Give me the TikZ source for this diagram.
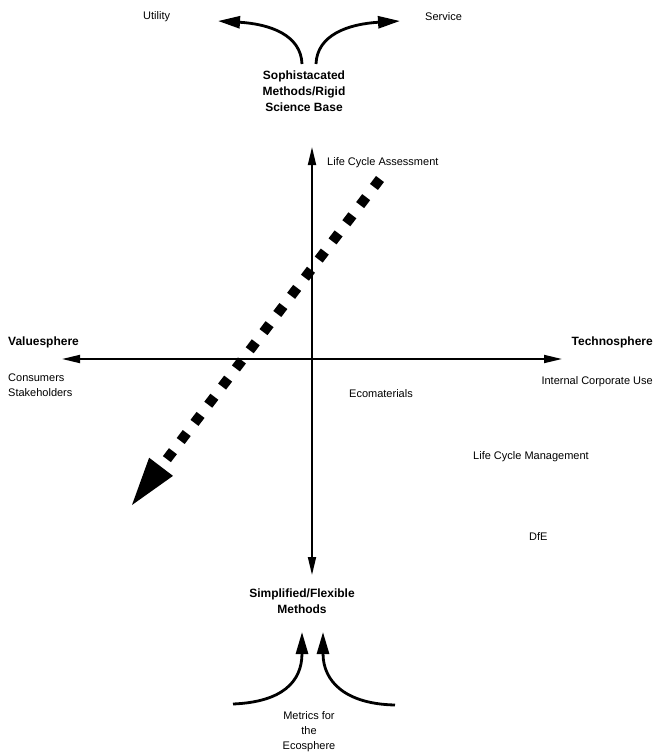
\documentclass[tikz,border=0pt]{standalone}
\usepackage{fontspec}
\setmainfont{Liberation Sans}
\usetikzlibrary{arrows.meta}
\tikzset{
  lbl/.style   = {inner sep=0pt, font=\fontsize{11}{15}\selectfont},
  hdr/.style   = {inner sep=0pt, align=center,
                  font=\fontsize{12}{16}\selectfont\bfseries},
  axis/.style  = {{Triangle[length=18pt,width=8pt]}-{Triangle[length=18pt,width=8pt]},
                  line width=1.8pt},
  bow/.style   = {-{Triangle[length=22pt,width=12pt]}, line width=2.8pt},
  trend/.style = {-{Triangle[length=48pt,width=30pt,line width=0pt]},
                  line width=10pt, dash pattern=on 10pt off 12.8pt},
}

\begin{document}
\begin{tikzpicture}[x=1pt, y=-1pt]
\useasboundingbox (0,0) rectangle (653,753);

%% ---- top: sophisticated methods ---------------------------------------
\node[hdr] (rigid) at (304,91)
  {Sophistacated\\Methods/Rigid\\Science Base};
\node[lbl, anchor=west] (util) at (143,17) {Utility};
\node[lbl, anchor=west] (serv) at (425,17) {Service};

%% ---- axes ----------------------------------------------------------------
\coordinate (ntop) at (312,147);
\coordinate (nbot) at (312,575);
\coordinate (west) at (62,359);
\coordinate (east) at (562,359);

\node[lbl, font=\fontsize{12}{16}\selectfont\bfseries, anchor=west]
  (value) at (8,342) {Valuesphere};
\node[lbl, font=\fontsize{12}{16}\selectfont\bfseries, anchor=east]
  (techno) at (653,342) {Technosphere};
\node[lbl, align=left, anchor=west] (cons) at (8,385.5)
  {Consumers\\Stakeholders};
\node[lbl, anchor=east] (corp) at (653,382) {Internal Corporate Use};

%% ---- quadrant labels -----------------------------------------------------
\node[lbl, anchor=west] (lca)  at (327,163) {Life Cycle Assessment};
\node[lbl, anchor=west] (eco)  at (349,394) {Ecomaterials};
\node[lbl, anchor=west] (lcm)  at (473,457) {Life Cycle Management};
\node[lbl, anchor=west] (dfe)  at (529,537) {DfE};

%% ---- bottom: simplified methods ------------------------------------------
\node[hdr] (flex) at (302,601) {Simplified/Flexible\\Methods};
\node[lbl, align=center] (metr) at (309,732)
  {Metrics for\\the\\Ecosphere};

%% ---- arrows --------------------------------------------------------------
\draw[axis] (ntop) -- (nbot);
\draw[axis] (west) -- (east);

\coordinate (trtop) at (380,179);
\coordinate (trtip) at (132,505);
\draw[trend] (trtop) -- (trtip);

\coordinate (ul) at (302,64);
\coordinate (ur) at (316,64);
\coordinate (utip) at (218,21);
\coordinate (stip) at (400,21);
\draw[bow] (ul) .. controls (301,35) and (270,24) .. (utip);
\draw[bow] (ur) .. controls (317,35) and (348,24) .. (stip);

\coordinate (bl) at (233,704);
\coordinate (br) at (395,705);
\coordinate (ltip) at (302,632);
\coordinate (rtip) at (323,632);
\draw[bow] (bl) .. controls (282,702) and (302,682) .. (ltip);
\draw[bow] (br) .. controls (346,704) and (323,682) .. (rtip);
\end{tikzpicture}
\end{document}
